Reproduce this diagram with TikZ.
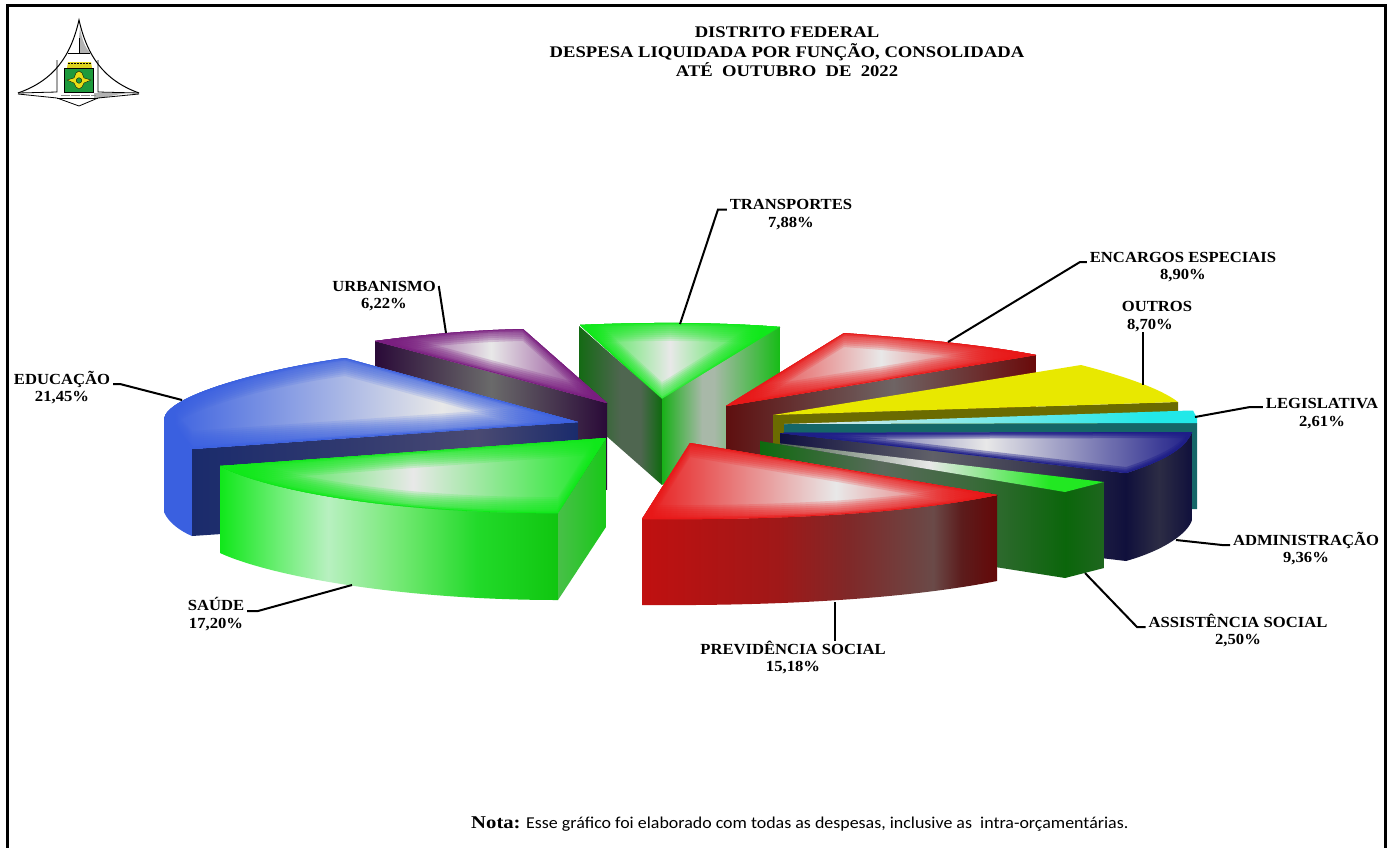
\documentclass[tikz,border=0pt]{standalone}
\usepackage{fontspec}
\setmainfont{Liberation Serif}
\newfontfamily\notefont[FakeStretch=1.08]{Carlito}
\newfontfamily\labfont[FakeStretch=1.08]{Liberation Serif}
\newfontfamily\titlefont[FakeStretch=1.15]{Liberation Serif}
\definecolor{glow}{HTML}{E8E8E8}
\definecolor{cTra}{HTML}{10E81A}
\definecolor{cUrb}{HTML}{7A1E80}
\definecolor{cEdu}{HTML}{3A60E0}
\definecolor{cEnc}{HTML}{E81818}
\definecolor{cOut}{HTML}{E8E800}
\definecolor{cOutS}{HTML}{6B6B00}
\definecolor{cLeg}{HTML}{22E8E8}
\definecolor{cLegS}{HTML}{156668}
\definecolor{cAdm}{HTML}{1E1E88}
\definecolor{cAss}{HTML}{22E822}
\definecolor{logoG}{HTML}{1E9A3C}
% side tones
\definecolor{gA}{HTML}{146A14}\definecolor{gB}{HTML}{4F6650}\definecolor{gC}{HTML}{0E6A0E}
\definecolor{gD}{HTML}{18B018}\definecolor{gE}{HTML}{A8B8A8}\definecolor{gF}{HTML}{16BC16}
\definecolor{uA}{HTML}{2A0A38}\definecolor{uB}{HTML}{6A6A6A}
\definecolor{eA}{HTML}{1A2B6C}\definecolor{eB}{HTML}{30396F}\definecolor{eC}{HTML}{4A4A72}
\definecolor{sA}{HTML}{10E81A}\definecolor{sB}{HTML}{70EE78}\definecolor{sC}{HTML}{B8F0C0}
\definecolor{sD}{HTML}{70E870}\definecolor{sE}{HTML}{22DA2A}\definecolor{sF}{HTML}{10C610}
\definecolor{sG}{HTML}{48C048}\definecolor{sH}{HTML}{18C818}
\definecolor{rA}{HTML}{5E0F0F}\definecolor{rB}{HTML}{6E6464}\definecolor{rC}{HTML}{6A0A0A}
\definecolor{pA}{HTML}{C01010}\definecolor{pB}{HTML}{A01818}\definecolor{pC}{HTML}{802828}
\definecolor{pD}{HTML}{6A4A48}\definecolor{pE}{HTML}{5C1C1C}\definecolor{pF}{HTML}{640808}
\definecolor{nA}{HTML}{0F0F40}\definecolor{nB}{HTML}{606068}\definecolor{nC}{HTML}{3A3A50}
\definecolor{nD}{HTML}{10103C}\definecolor{nE}{HTML}{2C2C44}
\definecolor{aA}{HTML}{0E6A0E}\definecolor{aB}{HTML}{5A6A5C}\definecolor{aC}{HTML}{3A6A3A}
\definecolor{aD}{HTML}{0B660B}\definecolor{aE}{HTML}{1E661E}
\pgfdeclarehorizontalshading{shTraL}{100bp}{color(0bp)=(gA);color(25bp)=(gA);color(50bp)=(gB);color(62bp)=(gB);color(75bp)=(gC);color(100bp)=(gC)}
\pgfdeclarehorizontalshading{shTraR}{100bp}{color(0bp)=(gD);color(25bp)=(gD);color(42bp)=(gE);color(47bp)=(gE);color(75bp)=(gF);color(100bp)=(gF)}
\pgfdeclarehorizontalshading{shUrb}{100bp}{color(0bp)=(uA);color(25bp)=(uA);color(50bp)=(uB);color(75bp)=(uA);color(100bp)=(uA)}
\pgfdeclarehorizontalshading{shEdu}{100bp}{color(0bp)=(eA);color(25bp)=(eA);color(45bp)=(eB);color(62bp)=(eC);color(75bp)=(eA);color(100bp)=(eA)}
\pgfdeclarehorizontalshading{shSau}{100bp}{color(0bp)=(sA);color(25bp)=(sA);color(34bp)=(sB);color(41bp)=(sC);color(52bp)=(sD);color(63bp)=(sE);color(75bp)=(sF);color(100bp)=(sF)}
\pgfdeclarehorizontalshading{shSauR}{100bp}{color(0bp)=(sG);color(25bp)=(sG);color(75bp)=(sH);color(100bp)=(sH)}
\pgfdeclarehorizontalshading{shEnc}{100bp}{color(0bp)=(rA);color(25bp)=(rA);color(52bp)=(rB);color(75bp)=(rC);color(100bp)=(rC)}
\pgfdeclarehorizontalshading{shPre}{100bp}{color(0bp)=(pA);color(25bp)=(pA);color(44bp)=(pB);color(54bp)=(pC);color(66bp)=(pD);color(70bp)=(pE);color(75bp)=(pF);color(100bp)=(pF)}
\pgfdeclarehorizontalshading{shAdmF}{100bp}{color(0bp)=(nA);color(25bp)=(nA);color(47bp)=(nB);color(62bp)=(nC);color(75bp)=(nD);color(100bp)=(nD)}
\pgfdeclarehorizontalshading{shAdmO}{100bp}{color(0bp)=(nD);color(25bp)=(nD);color(50bp)=(nE);color(75bp)=(nD);color(100bp)=(nD)}
\pgfdeclarehorizontalshading{shAssF}{100bp}{color(0bp)=(aA);color(25bp)=(aA);color(45bp)=(aB);color(60bp)=(aC);color(75bp)=(aD);color(100bp)=(aD)}
\pgfdeclarehorizontalshading{shAssO}{100bp}{color(0bp)=(aD);color(25bp)=(aD);color(75bp)=(aE);color(100bp)=(aE)}
% [#1] depth of the vertical bevel, #2 path, #3 colour, #4 left x, #5 right x of the horizontal glow
\newcommand{\topface}[5][14]{%
  \fill[#3] #2;
  \begin{scope}
    \clip #2;
    \shade[left color=#3,right color=#3,middle color=glow] (#4,0) rectangle (#5,847);
    \pgfmathsetmacro{\facealpha}{2.4/#1}
    \foreach \s in {2,4,...,#1}{%
      \fill[#3,opacity=\facealpha,even odd rule] (0,0) rectangle (1390,847) {[yshift=\s pt] #2};
      \fill[#3,opacity=\facealpha,even odd rule] (0,0) rectangle (1390,847) {[yshift=-\s pt] #2};
    }
    \draw[#3,line width=5pt,opacity=.35,line join=round] #2;
    \draw[#3,line width=1.5pt,line join=round] #2;
  \end{scope}}
% #1 path, #2 shading, #3 left x, #4 right x
\newcommand{\sideface}[4]{%
  \begin{scope}
    \clip #1;
    \shade[shading=#2] (#3,0) rectangle (#4,847);
  \end{scope}}
\tikzset{
  lab/.style={font=\labfont\bfseries\fontsize{15.4}{16}\selectfont,inner sep=3pt,outer sep=0pt,text height=10pt,text depth=0pt},
  leader/.style={black,line width=2pt},
  titletxt/.style={font=\titlefont\bfseries\fontsize{16.2}{17}\selectfont,inner sep=0pt,text height=11pt,text depth=0pt},
  logoline/.style={black,line width=.8pt}
}
\begin{document}
\begin{tikzpicture}[x=1pt,y=-1pt]
\useasboundingbox (0,0) rectangle (1390,847);
\fill[white] (0,0) rectangle (1390,847);
% frame
\draw[black,line width=2.5pt] (7.5,850) -- (7.5,5.5) -- (1385.5,5.5) -- (1385.5,850);
% logo
\fill[white] (79,20) .. controls (71,55) and (55,80) .. (18,93) -- (79,106) -- (139,93) .. controls (103,80) and (87,55) .. (79,20) -- cycle;
\fill[black!30] (79,38) -- (79,53) -- (90,53) .. controls (85,47) and (82,40) .. (80,28) -- cycle;
\fill[black!30] (94,93) -- (126,93) -- (100,98) -- (94,98) -- cycle;
\draw[logoline,line width=1pt] (18,93) .. controls (55,80) and (71,55) .. (79,20) .. controls (87,55) and (103,80) .. (139,93);
\draw[logoline] (18,93) -- (57,92) -- (57,60);
\draw[logoline] (139,93) -- (98,92) -- (98,60);
\draw[logoline] (18,94) -- (57,98) -- (79,106) -- (98,98) -- (139,94);
\draw[logoline] (57,98) -- (98,98);
\draw[logoline] (79,38) -- (79,53) (68,53) -- (90,53);
\fill[yellow!85!black] (67,68) -- (68,62) -- (91,62) -- (92,68) -- cycle;
\draw[black,line width=.5pt,dash pattern=on 2pt off 1pt] (68,63.5) -- (91,63.5);
\fill[logoG,draw=black,line width=.7pt] (64.5,68) rectangle (93,92);
\fill[yellow!90!black,draw=black,line width=.3pt] (67,80) -- (74,78) -- (76,73) -- (79,71) -- (82,73) -- (84,78) -- (91,80) -- (84,83) -- (82,87) -- (79,89) -- (76,87) -- (74,83) -- cycle;
\fill[logoG,draw=black,line width=.3pt] (79,80.5) circle (2.8);
\draw[black!45,line width=1.6pt,dash pattern=on 9pt off 1pt] (61,95.5) -- (96,95.5);
% --- transportes
\topface[18]{(580,325) .. controls (640,322) and (720,322) .. (780,327) -- (662,400) -- cycle}{cTra}{570}{770}
\sideface{(579,326) -- (662,399) -- (662,485) -- (579,412) -- cycle}{shTraL}{579}{662}
\sideface{(662,399) -- (780,327) -- (780,420) -- (662,485) -- cycle}{shTraR}{662}{780}
% --- urbanismo
\sideface{(375,341) -- (607,403) -- (607,490) -- (375,428) -- cycle}{shUrb}{375}{607}
\topface[12]{(523,329) .. controls (470,330) and (420,335) .. (375,341) -- (607,403) -- cycle}{cUrb}{375}{607}
% --- educacao
\fill[cEdu] (164,418) -- (164,512) .. controls (168,522) and (180,531) .. (192,536) -- (192,449) -- cycle;
\sideface{(192,449) -- (578,422) -- (578,510) -- (192,536) -- cycle}{shEdu}{192}{578}
\topface[18]{(345,358) .. controls (270,368) and (164,395) .. (164,420) -- (192,449) -- (578,422) -- cycle}{cEdu}{164}{720}
% --- saude
\sideface{(220,466) .. controls (270,492) and (400,514) .. (558,513) -- (558,600) .. controls (400,600) and (270,576) .. (220,553) -- cycle}{shSau}{220}{558}
\sideface{(558,513) -- (606,438) -- (606,527) -- (558,600) -- cycle}{shSauR}{558}{606}
\topface[16]{(220,466) -- (606,438) -- (558,513) .. controls (400,514) and (270,492) .. (220,466) -- cycle}{cTra}{220}{606}
% --- encargos
\sideface{(726,406) -- (1036,355) -- (1036,440) -- (726,490) -- cycle}{shEnc}{726}{1036}
\topface[14]{(844,333) .. controls (910,338) and (985,345) .. (1036,355) -- (726,406) -- cycle}{cEnc}{726}{1036}
% --- outros
\fill[cOutS] (773,415) -- (1178,402) -- (1178,460) -- (773,470) -- cycle;
\fill[cOut] (1081,365) .. controls (1120,375) and (1160,388) .. (1178,402) -- (773,415) -- cycle;
% --- legislativa
\fill[cLegS] (784,424) -- (1197,423) -- (1197,509) -- (1190,509) -- (1190,470) -- (784,470) -- cycle;
\begin{scope}
\clip (784,424) -- (1190,410.5) -- (1193,410.5) -- (1197,418) -- (1197,423) -- cycle;
\shade[left color=glow,right color=cLeg] (784,400) rectangle (1150,430);
\fill[cLeg] (1150,400) rectangle (1200,430);
\end{scope}
% --- administracao
\sideface{(780,433) -- (1126,473) -- (1126,561) -- (780,520) -- cycle}{shAdmF}{780}{1126}
\sideface{(1126,473) .. controls (1160,462) and (1185,450) .. (1192,432) -- (1192,520) .. controls (1188,533) and (1165,550) .. (1126,561) -- cycle}{shAdmO}{1126}{1192}
\topface[6]{(780,433) -- (1192,432) .. controls (1185,450) and (1160,462) .. (1126,473) -- cycle}{cAdm}{780}{1192}
% --- assistencia
\sideface{(760,441) -- (1065,492) -- (1065,578) -- (760,530) -- cycle}{shAssF}{760}{1065}
\sideface{(1065,492) -- (1104,482) -- (1104,568) -- (1065,578) -- cycle}{shAssO}{1065}{1104}
\begin{scope}
\clip (760,441) -- (1104,482) -- (1065,492) -- cycle;
\shade[left color=gB,right color=glow] (780,400) rectangle (930,500);
\shade[left color=glow,right color=cAss] (930,400) rectangle (1050,500);
\fill[cAss] (1050,400) rectangle (1110,500);
\end{scope}
% --- previdencia
\sideface{(642,519) .. controls (770,520) and (900,515) .. (997,495) -- (997,581) .. controls (900,600) and (770,606) .. (642,605) -- cycle}{shPre}{642}{997}
\topface[14]{(690,443) -- (997,495) .. controls (900,515) and (770,520) .. (642,519) -- cycle}{cEnc}{642}{1030}
% --- labels
\node[titletxt] (t1) at (787,32) {DISTRITO FEDERAL};
\node[titletxt] (t2) at (787,52) {DESPESA LIQUIDADA POR FUNÇÃO, CONSOLIDADA};
\node[titletxt] (t3) at (787,70.5) {ATÉ\ \ OUTUBRO\ \ DE\ \ 2022};
\node[lab] (lTra) at (791,204.5) {TRANSPORTES};
\node[lab] (pTra) at (791,222) {7,88\%};
\node[lab] (lEnc) at (1183,257) {ENCARGOS ESPECIAIS};
\node[lab] (pEnc) at (1183,274) {8,90\%};
\node[lab] (lOut) at (1157,306) {OUTROS};
\node[lab] (pOut) at (1150,324) {8,70\%};
\node[lab] (lLeg) at (1322,403) {LEGISLATIVA};
\node[lab] (pLeg) at (1322,421) {2,61\%};
\node[lab] (lAdm) at (1306,540) {ADMINISTRAÇÃO};
\node[lab] (pAdm) at (1306,557) {9,36\%};
\node[lab] (lAss) at (1238,622) {ASSISTÊNCIA SOCIAL};
\node[lab] (pAss) at (1238,639) {2,50\%};
\node[lab] (lPre) at (793,649) {PREVIDÊNCIA SOCIAL};
\node[lab] (pPre) at (793,666) {15,18\%};
\node[lab] (lSau) at (216,605) {SAÚDE};
\node[lab] (pSau) at (216,623) {17,20\%};
\node[lab] (lEdu) at (62,379) {EDUCAÇÃO};
\node[lab] (pEdu) at (62,396) {21,45\%};
\node[lab] (lUrb) at (384,286) {URBANISMO};
\node[lab] (pUrb) at (384,303) {6,22\%};
% leader ends on the pie and their kinks
\coordinate (eTra) at (680,324);  \coordinate (kTra) at (718,209.5);
\coordinate (eEnc) at (948,342);  \coordinate (kEnc) at (1080,262);
\coordinate (eOut) at (1143,385);
\coordinate (eLeg) at (1195,417); \coordinate (kLeg) at (1250,407);
\coordinate (eAdm) at (1176,540); \coordinate (kAdm) at (1222,545);
\coordinate (eAss) at (1085,573); \coordinate (kAss) at (1137,627);
\coordinate (ePre) at (835,602);
\coordinate (eSau) at (352,585);  \coordinate (kSau) at (258,611);
\coordinate (eEdu) at (182,400);  \coordinate (kEdu) at (120,384);
\coordinate (eUrb) at (446,333);
\draw[leader] (eTra) -- (kTra) -- (kTra -| lTra.west);
\draw[leader] (eEnc) -- (kEnc) -- (kEnc -| lEnc.west);
\draw[leader] (eOut) -- (pOut.south -| eOut);
\draw[leader] (eLeg) -- (kLeg) -- (kLeg -| lLeg.west);
\draw[leader] (eAdm) -- (kAdm) -- (kAdm -| lAdm.west);
\draw[leader] (eAss) -- (kAss) -- (kAss -| lAss.west);
\draw[leader] (ePre) -- (lPre.north -| ePre);
\draw[leader] (eSau) -- (kSau) -- (kSau -| lSau.east);
\draw[leader] (eEdu) -- (kEdu) -- (kEdu -| lEdu.east);
\draw[leader] (eUrb) -- (lUrb.east);
% note
\node[anchor=base west,inner sep=0pt] (nota) at (471,828) {\titlefont\bfseries\fontsize{18}{19}\selectfont Nota:};
\node[anchor=base west,inner sep=0pt] (nota2) at (526,828) {\notefont\fontsize{16.6}{17}\selectfont Esse gráfico foi elaborado com todas as despesas, inclusive as\ \ intra-orçamentárias.};
\end{tikzpicture}
\end{document}
